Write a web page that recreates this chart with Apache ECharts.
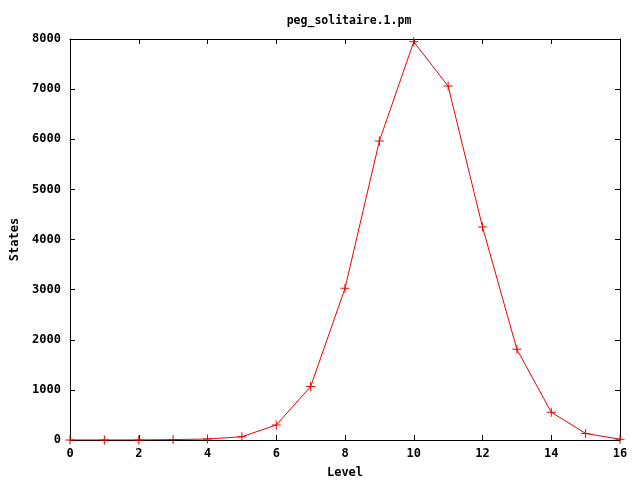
<!DOCTYPE html>
<html><head><meta charset="utf-8">
<script src="https://cdn.jsdelivr.net/npm/echarts@6/dist/echarts.min.js"></script>
<style>html,body{margin:0;padding:0;background:#fff}#c{width:640px;height:480px}</style>
</head><body><div id="c"></div>
<script>
const levels = [0,1,2,3,4,5,6,7,8,9,10,11,12,13,14,15,16];
const states = [1,1,2,8,20,65,300,1065,3025,5965,7945,7060,4250,1810,555,130,15];
const xTicks = [0,2,4,6,8,10,12,14,16];
const yTicks = [0,1000,2000,3000,4000,5000,6000,7000,8000];
const titleText = 'peg_solitaire.1.pm';
const xName = 'Level', yName = 'States';

const font = "'DejaVu Sans Mono', monospace";
const chart = echarts.init(document.getElementById('c'), null, {renderer:'canvas'});
const axisCommon = {
  type:'value', splitLine:{show:false},
  axisLine:{show:true, onZero:false, lineStyle:{color:'#000', width:1}},
  axisTick:{show:true, inside:true, length:5, lineStyle:{color:'#000'}},
};
const txt = {fontFamily:font, fontWeight:'bold', fontSize:12, color:'#000'};
chart.setOption({
  animation:false,
  title:{text:titleText, left:344, top:10, textAlign:'center',
    textStyle:Object.assign({}, txt, {fontSize:11.5})},
  grid:{left:70, right:20, top:39, bottom:40, containLabel:false, outerBoundsMode:'none'},
  xAxis:[
    Object.assign({}, axisCommon, {min:0, max:16, interval:2, position:'bottom',
      name:xName, nameLocation:'middle', nameGap:27, nameTextStyle:txt,
      axisLabel:Object.assign({}, txt, {margin:8, formatter:v=>xTicks.includes(v)?String(v):''})}),
    Object.assign({}, axisCommon, {min:0, max:16, interval:2, position:'top', axisLabel:{show:false}})
  ],
  yAxis:[
    Object.assign({}, axisCommon, {min:0, max:8000, interval:1000, position:'left',
      name:yName, nameLocation:'middle', nameGap:49, nameRotate:90, nameTextStyle:txt,
      axisLabel:Object.assign({}, txt, {margin:9, formatter:v=>yTicks.includes(v)?String(v):''})}),
    Object.assign({}, axisCommon, {min:0, max:8000, interval:1000, position:'right', axisLabel:{show:false}})
  ],
  series:[{
    type:'line', xAxisIndex:0, yAxisIndex:0,
    data: levels.map((l,i)=>[l, states[i]]),
    symbol:'path://M4,0H5V4H9V5H5V9H4V5H0V4H4Z', symbolSize:9, showAllSymbol:true,
    itemStyle:{color:'#ee0000'},
    lineStyle:{color:'#ee0000', width:1},
    z:5
  }]
});
</script></body></html>
